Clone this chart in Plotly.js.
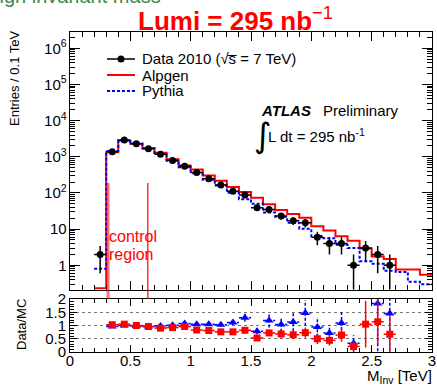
<!DOCTYPE html>
<html><head><meta charset="utf-8">
<script src="https://cdn.plot.ly/plotly-3.0.1.min.js"></script>
<style>html,body{margin:0;padding:0;background:#fff}#chart{width:437px;height:385px}</style>
</head><body><div id="chart"></div>
<script>
// ---- data ----
const binEdges = [0,0.1,0.2,0.3,0.4,0.5,0.6,0.7,0.8,0.9,1.0,1.1,1.2,1.3,1.4,1.5,1.6,1.7,1.8,1.9,2.0,2.1,2.2,2.3,2.4,2.5,2.6,2.7,2.8,2.9,3.0];
const alpgen = [0,0,0.23,1340,2760,2290,1730,1300,860,573,446,302,217,147,106,74,49,34,26,20.5,12,9.1,6.3,4.8,2.9,1.75,1.5,0.76,0.76,0.55];
const pythia = [0,0,0.8,1440,2900,2340,1730,1190,780,510,352,233,160,101,67,50,29,22,15,10.2,6.4,5.6,3.7,3.0,1.3,1.1,0.7,0.65,0.35,0.3];

const dataX = [0.25,0.35,0.45,0.55,0.65,0.75,0.85,0.95,1.05,1.15,1.25,1.35,1.45,1.55,1.65,1.75,1.85,1.95,2.05,2.15,2.25,2.35,2.45,2.55,2.65];
const dataCounts = [2,1380,2900,2290,1660,1170,790,550,370,245,165,112,87,39,35,23,17,15,6,4,4,1,3,2,1];
const dataErr = [1.4,37,54,48,41,34,28,23,19,16,13,11,9,6,6,5,4,4,2.4,2,2,1,1.7,1.4,1];

const ratioAlpX = [0.35,0.45,0.55,0.65,0.75,0.85,0.95,1.05,1.15,1.25,1.35,1.45,1.55,1.65,1.75,1.85,1.95,2.05,2.15,2.25,2.35,2.45,2.55,2.65];
const ratioAlp = [1.03,1.05,1.0,0.96,0.90,0.92,0.96,0.83,0.81,0.76,0.76,0.82,0.53,0.72,0.68,0.65,0.73,0.50,0.44,0.64,0.21,1.05,1.14,0.67];
const ratioAlpErr = [0.03,0.03,0.03,0.03,0.03,0.03,0.03,0.04,0.05,0.06,0.07,0.09,0.09,0.12,0.14,0.16,0.19,0.2,0.2,0.25,0.21,0.88,0.85,0.7];

const ratioPytX = [0.35,0.45,0.55,0.65,0.75,0.85,0.95,1.05,1.15,1.25,1.35,1.45,1.55,1.65,1.75,1.85,1.95,2.05,2.15,2.25,2.35,2.55,2.65];
const ratioPyt = [0.96,1.0,0.98,0.96,0.98,1.01,1.08,1.05,1.05,1.03,1.11,1.29,0.78,1.19,1.04,1.13,1.47,0.94,0.72,1.09,0.33,1.83,1.45];
const ratioPytErr = [0.03,0.03,0.03,0.03,0.03,0.03,0.04,0.05,0.06,0.07,0.1,0.15,0.12,0.27,0.28,0.35,0.48,0.38,0.3,0.45,0.3,1.8,1.4];

const xTickVals = [0,0.5,1,1.5,2,2.5,3];
const xTickText = ['0','0.5','1','1.5','2','2.5','3'];
const rTickVals = [0,0.5,1,1.5,2];
const rTickText = ['0','0.5','1','1.5','2'];
const controlEdges = [0.315, 0.645];

// ---- geometry helpers ----
const W = 437, H = 385, ML = 70, MR = 5, MT = 32, MB = 33;
const px = x => (x - ML) / (W - ML - MR);
const py = y => (H - MB - y) / (H - MT - MB);
const FONT = 'Liberation Sans, Arial, Helvetica, sans-serif';
const RED = '#ff0000', BLUE = '#0000ff';

const stepY = arr => arr.concat([arr[arr.length - 1]]).map(v => v > 0 ? v : null);
const halfBin = 0.05;

// dotted error bars for Pythia ratio
const pErrX = [], pErrY = [];
ratioPytX.forEach((x, i) => {
  const r = ratioPyt[i], e = ratioPytErr[i];
  pErrX.push(x, x, null, x - halfBin, x + halfBin, null);
  pErrY.push(r - e, r + e, null, r, r, null);
});

const traces = [
  {x: binEdges, y: stepY(alpgen), type: 'scatter', mode: 'lines', line: {shape: 'hv', color: RED, width: 2}, xaxis: 'x', yaxis: 'y', hoverinfo: 'skip'},
  {x: binEdges, y: stepY(pythia), type: 'scatter', mode: 'lines', line: {shape: 'hv', color: BLUE, width: 2, dash: '3px,2px'}, xaxis: 'x', yaxis: 'y', hoverinfo: 'skip'},
  {x: dataX, y: dataCounts, type: 'scatter', mode: 'markers', marker: {color: 'black', size: 7, symbol: 'circle'},
   error_y: {type: 'data', array: dataErr, color: 'black', thickness: 1.5, width: 0},
   error_x: {type: 'constant', value: halfBin, color: 'black', thickness: 1.5, width: 0}, xaxis: 'x', yaxis: 'y'},
  {x: pErrX, y: pErrY, type: 'scatter', mode: 'lines', line: {color: BLUE, width: 1.5, dash: '3px,2px'}, xaxis: 'x2', yaxis: 'y2', hoverinfo: 'skip'},
  {x: ratioPytX, y: ratioPyt, type: 'scatter', mode: 'markers', marker: {color: BLUE, size: 8, symbol: 'triangle-up'}, xaxis: 'x2', yaxis: 'y2'},
  {x: ratioAlpX, y: ratioAlp, type: 'scatter', mode: 'markers', marker: {color: RED, size: 7, symbol: 'square'},
   error_y: {type: 'data', array: ratioAlpErr, color: RED, thickness: 1.5, width: 0},
   error_x: {type: 'constant', value: halfBin, color: RED, thickness: 1.5, width: 0}, xaxis: 'x2', yaxis: 'y2'}
];

const axBase = {showline: true, linecolor: 'black', linewidth: 1, mirror: 'ticks', ticks: 'inside', tickcolor: 'black', zeroline: false, showgrid: false, fixedrange: true};

const layout = {
  width: W, height: H,
  margin: {l: ML, r: MR, t: MT, b: MB, pad: 0},
  paper_bgcolor: 'white', plot_bgcolor: 'white',
  showlegend: false,
  font: {family: FONT, color: 'black', size: 15},
  xaxis: Object.assign({}, axBase, {anchor: 'y', range: [0, 3], tickvals: xTickVals, showticklabels: false, ticklen: 9,
    minor: {dtick: 0.1, ticklen: 5, ticks: 'inside', tickcolor: 'black', showgrid: false}}),
  yaxis: Object.assign({}, axBase, {anchor: 'x', type: 'log', range: [-0.67, 6.45], dtick: 1, exponentformat: 'power',
    tickfont: {size: 12, family: FONT}, ticklen: 10, domain: [py(289.5), 1],
    minor: {dtick: 'D1', ticklen: 5, ticks: 'inside', tickcolor: 'black', showgrid: false}}),
  xaxis2: Object.assign({}, axBase, {anchor: 'y2', matches: 'x', range: [0, 3], tickvals: xTickVals, ticktext: xTickText, ticklen: 7,
    tickfont: {size: 15, family: FONT}, ticklabelstandoff: -5,
    minor: {dtick: 0.1, ticklen: 4, ticks: 'inside', tickcolor: 'black', showgrid: false}}),
  yaxis2: Object.assign({}, axBase, {anchor: 'x2', range: [0, 2], tickvals: rTickVals, ticktext: rTickText, ticklen: 7, domain: [0, py(299)],
    tickfont: {size: 15, family: FONT}, showgrid: true, gridcolor: '#777', griddash: 'dot', gridwidth: 1,
    minor: {dtick: 0.1, ticklen: 4, ticks: 'inside', tickcolor: 'black', showgrid: false}}),
  shapes: [
    // control region boundaries
    {type: 'line', xref: 'x', yref: 'paper', x0: controlEdges[0], x1: controlEdges[0], y0: py(299), y1: py(183), line: {color: 'rgba(255,0,0,0.55)', width: 3}},
    {type: 'line', xref: 'x', yref: 'paper', x0: controlEdges[1], x1: controlEdges[1], y0: py(299), y1: py(183), line: {color: RED, width: 1.2}},
    // legend samples
    {type: 'line', xref: 'paper', yref: 'paper', x0: px(107), x1: px(135), y0: py(59), y1: py(59), line: {color: 'black', width: 1.5}},
    {type: 'circle', xref: 'paper', yref: 'paper', x0: px(117.5), x1: px(124.5), y0: py(62.5), y1: py(55.5), fillcolor: 'black', line: {color: 'black', width: 0}},
    {type: 'line', xref: 'paper', yref: 'paper', x0: px(107), x1: px(135), y0: py(75), y1: py(75), line: {color: RED, width: 2}},
    {type: 'line', xref: 'paper', yref: 'paper', x0: px(107), x1: px(135), y0: py(91), y1: py(91), line: {color: BLUE, width: 2, dash: '3px,2px'}}
  ],
  annotations: [
    {text: 'High invariant mass', xref: 'paper', yref: 'paper', x: px(163), y: py(-4.5), xanchor: 'right', yanchor: 'middle', showarrow: false, font: {size: 20, color: '#3c8a4a', family: FONT}},
    {text: '<b>Lumi = 295 nb</b><sup>\u22121</sup>', xref: 'paper', yref: 'paper', x: px(136), y: py(19), xanchor: 'left', yanchor: 'middle', showarrow: false, font: {size: 26, color: RED, family: FONT}},
    {text: 'Entries / 0.1 TeV', xref: 'paper', yref: 'paper', x: px(14), y: py(79), xanchor: 'center', yanchor: 'middle', textangle: -90, showarrow: false, font: {size: 13, family: FONT}},
    {text: 'Data/MC', xref: 'paper', yref: 'paper', x: px(21), y: py(325), xanchor: 'center', yanchor: 'middle', textangle: -90, showarrow: false, font: {size: 13, family: FONT}},
    {text: 'M<sub>Inv</sub> [TeV]', xref: 'paper', yref: 'paper', x: px(434), y: py(376), xanchor: 'right', yanchor: 'middle', showarrow: false, font: {size: 15, family: FONT}},
    {text: 'Data 2010 (\u221As\u0305 = 7 TeV)', xref: 'paper', yref: 'paper', x: px(140), y: py(59), xanchor: 'left', yanchor: 'middle', showarrow: false, font: {size: 15, family: FONT}},
    {text: 'Alpgen', xref: 'paper', yref: 'paper', x: px(140), y: py(75), xanchor: 'left', yanchor: 'middle', showarrow: false, font: {size: 15, family: FONT}},
    {text: 'Pythia', xref: 'paper', yref: 'paper', x: px(140), y: py(91), xanchor: 'left', yanchor: 'middle', showarrow: false, font: {size: 15, family: FONT}},
    {text: '<b><i>ATLAS</i></b>', xref: 'paper', yref: 'paper', x: px(259), y: py(110), xanchor: 'left', yanchor: 'middle', showarrow: false, font: {size: 15, family: FONT}},
    {text: 'Preliminary', xref: 'paper', yref: 'paper', x: px(321), y: py(110), xanchor: 'left', yanchor: 'middle', showarrow: false, font: {size: 15, family: FONT}},
    {text: '\u222B', xref: 'paper', yref: 'paper', x: px(263), y: py(135), xanchor: 'center', yanchor: 'middle', showarrow: false, font: {size: 34, family: 'DejaVu Sans, sans-serif'}},
    {text: 'L dt = 295 nb<sup>-1</sup>', xref: 'paper', yref: 'paper', x: px(266), y: py(135), xanchor: 'left', yanchor: 'middle', showarrow: false, font: {size: 15, family: FONT}},
    {text: 'control', xref: 'paper', yref: 'paper', x: px(107), y: py(236), xanchor: 'left', yanchor: 'middle', showarrow: false, font: {size: 16, color: RED, family: FONT}},
    {text: 'region', xref: 'paper', yref: 'paper', x: px(107), y: py(254), xanchor: 'left', yanchor: 'middle', showarrow: false, font: {size: 16, color: RED, family: FONT}}
  ]
};

Plotly.newPlot('chart', traces, layout, {staticPlot: true, displayModeBar: false});
</script>
</body></html>
